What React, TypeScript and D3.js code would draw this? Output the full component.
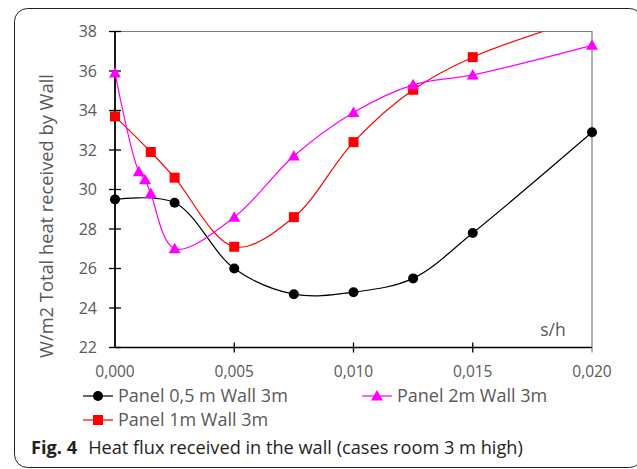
import * as d3 from 'd3';

const xTicks = [0, 0.005, 0.01, 0.015, 0.02];
const xTickLabels = ['0,000', '0,005', '0,010', '0,015', '0,020'];
const yTicks = [22, 24, 26, 28, 30, 32, 34, 36, 38];

const blackX = [0, 0.0025, 0.005, 0.0075, 0.01, 0.0125, 0.015, 0.02];
const blackY = [29.5, 29.33, 26.0, 24.7, 24.8, 25.5, 27.8, 32.9];

const magentaX = [0, 0.001, 0.00126, 0.0015, 0.0025, 0.005, 0.0075, 0.01, 0.0125, 0.015, 0.02];
const magentaY = [35.9, 30.9, 30.5, 29.8, 27.0, 28.6, 31.7, 33.9, 35.3, 35.8, 37.3];

const redX = [0, 0.0015, 0.0025, 0.005, 0.0075, 0.01, 0.0125, 0.015, 0.02];
const redY = [33.7, 31.9, 30.6, 27.1, 28.6, 32.4, 35.05, 36.7, 38.8];

const FONT = '"Open Sans", "Noto Sans", sans-serif';
const GREY = '#595959';

const margin = { left: 115, top: 31.5, right: 592, bottom: 347.5 };

type Pt = [number, number];
const zip = (xs: number[], ys: number[]): Pt[] => xs.map((x, i) => [x, ys[i]]);

function Marker({ kind, cx, cy, color }: { kind: string; cx: number; cy: number; color: string }) {
  if (kind === 'circle') return <circle cx={cx} cy={cy} r={5} fill={color} />;
  if (kind === 'square') return <rect x={cx - 5} y={cy - 5} width={10} height={10} fill={color} />;
  return <path d={`M${cx},${cy - 6}L${cx + 6},${cy + 4.5}L${cx - 6},${cy + 4.5}Z`} fill={color} />;
}

export default function App() {
  const x = d3.scaleLinear().domain([0, 0.02]).range([margin.left, margin.right]);
  const y = d3.scaleLinear().domain([22, 38]).range([margin.bottom, margin.top]);

  const line = d3.line<Pt>()
    .x((d) => x(d[0]))
    .y((d) => y(d[1]))
    .curve(d3.curveCatmullRom.alpha(0.5));

  const series = [
    { name: 'Panel 0,5 m Wall 3m', data: zip(blackX, blackY), color: '#000000', kind: 'circle' },
    { name: 'Panel 1m Wall 3m', data: zip(redX, redY), color: '#ff0000', kind: 'square' },
    { name: 'Panel 2m Wall 3m', data: zip(magentaX, magentaY), color: '#ff00ff', kind: 'triangle' },
  ];

  const legend = [
    { s: series[0], lx: 83, ly: 396 },
    { s: series[2], lx: 362, ly: 396 },
    { s: series[1], lx: 83, ly: 420 },
  ];

  return (
    <svg width={637} height={469} style={{ position: 'absolute', left: 0, top: 0, background: '#fff' }}>
      <defs>
        <clipPath id="plotClip">
          <rect x={margin.left - 20} y={margin.top} width={margin.right - margin.left + 40} height={margin.bottom - margin.top + 20} />
        </clipPath>
      </defs>
      <rect x={14.5} y={8.5} width={628} height={459} rx={13} fill="none" stroke="#231f20" strokeWidth={1} />

      {/* frame top/right */}
      <path d={`M${margin.left},${margin.top}H${margin.right}V${margin.bottom + 5}`} fill="none" stroke="#7f7f7f" strokeWidth={1.2} />

      {/* y axis */}
      <line x1={margin.left} x2={margin.left} y1={margin.top} y2={margin.bottom} stroke="#000" strokeWidth={1.8} />
      {yTicks.map((t) => (
        <g key={t}>
          <line x1={margin.left - 6} x2={margin.left + 6} y1={y(t)} y2={y(t)} stroke="#000" strokeWidth={1.3} />
          <text x={97} y={y(t)} dy="0.35em" textAnchor="end" fontSize={16} fill={GREY} fontFamily={FONT}>{t}</text>
        </g>
      ))}

      {/* x axis */}
      <line x1={margin.left} x2={margin.right} y1={margin.bottom} y2={margin.bottom} stroke="#000" strokeWidth={1.5} />
      {xTicks.map((t, i) => (
        <g key={t}>
          {i > 0 && i < xTicks.length - 1 && (
            <line x1={x(t)} x2={x(t)} y1={margin.bottom - 5} y2={margin.bottom + 5} stroke="#000" strokeWidth={1.3} />
          )}
          <text x={x(t)} y={372} dy="0.35em" textAnchor="middle" fontSize={15.5} fill={GREY} fontFamily={FONT}>{xTickLabels[i]}</text>
        </g>
      ))}

      <text x={553} y={330} dy="0.35em" textAnchor="middle" fontSize={17.5} fill={GREY} fontFamily={FONT}>s/h</text>

      <text transform={`translate(47,216) rotate(-90)`} textAnchor="middle" dy="0.35em" fontSize={18.3} fill={GREY} fontFamily={FONT}>
        W/m2 Total heat received by Wall
      </text>

      <g clipPath="url(#plotClip)">
        {series.map((s) => (
          <g key={s.name}>
            <path d={line(s.data) || ''} fill="none" stroke={s.color} strokeWidth={1.2} />
            {s.data.map((d, i) => (
              <Marker key={i} kind={s.kind} cx={x(d[0])} cy={y(d[1])} color={s.color} />
            ))}
          </g>
        ))}
      </g>

      {legend.map(({ s, lx, ly }) => (
        <g key={s.name}>
          <line x1={lx} x2={lx + 30} y1={ly} y2={ly} stroke={s.color} strokeWidth={1.2} />
          <Marker kind={s.kind} cx={lx + 15} cy={ly} color={s.color} />
          <text x={lx + 35} y={ly} dy="0.35em" fontSize={18} fill={GREY} fontFamily={FONT}>{s.name}</text>
        </g>
      ))}

      <text x={31} y={448} dy="0.35em" fontSize={18.2} fill="#231f20" fontFamily={FONT}>
        <tspan fontWeight="bold">Fig. 4</tspan>
        <tspan dx={11}>Heat flux received in the wall (cases room 3 m high)</tspan>
      </text>
    </svg>
  );
}
